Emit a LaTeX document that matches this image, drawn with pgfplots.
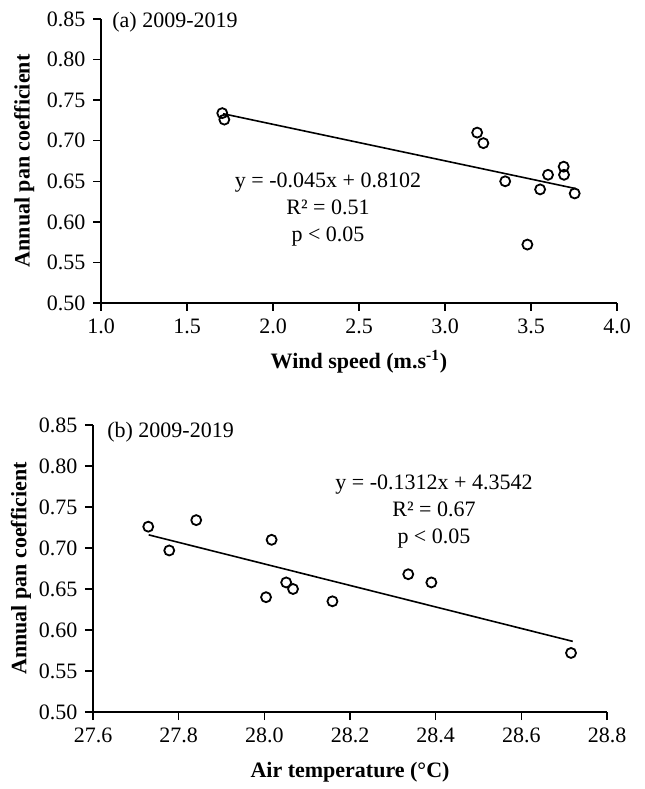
\documentclass[border=0pt]{standalone}
\usepackage{fontspec}
\setmainfont{Liberation Serif}
\usepackage{pgfplots}
\pgfplotsset{compat=1.18}
\begin{document}
\fontsize{11bp}{13.5bp}\selectfont
\begin{tikzpicture}
\useasboundingbox (0,0) rectangle (322.5bp,394.5bp);
\pgfplotsset{
  myax/.style={
    scale only axis,
    axis lines=left,
    axis line style={-, line width=0.65bp, black},
    tick align=outside,
    tick pos=left,
    major tick length=4bp,
    major tick style={line width=0.65bp, black},
    tick label style={font=\fontsize{11bp}{13bp}\selectfont},
    label style={font=\fontsize{11bp}{13bp}\selectfont\bfseries},
    ymin=0.5, ymax=0.85,
    ytick={0.5,0.55,0.6,0.65,0.7,0.75,0.8,0.85},
    yticklabels={0.50,0.55,0.60,0.65,0.70,0.75,0.80,0.85},
    clip=false,
  },
  mypts/.style={only marks, mark=o, mark size=2.5bp, mark options={line width=0.9bp, black}},
  myline/.style={black, line width=0.8bp, no marks},
}
% Top panel
\begin{axis}[myax,
  width=258bp, height=142bp,
  at={(50.5bp,243bp)}, anchor=south west,
  xmin=1, xmax=4,
  xtick={1,1.5,2,2.5,3,3.5,4},
  xticklabels={1.0,1.5,2.0,2.5,3.0,3.5,4.0},
  xlabel={Wind speed (m.s\textsuperscript{-1})},
  ylabel={Annual pan coefficient},
  xlabel style={at={(axis description cs:0.5,-0.208)}, anchor=center},
  ylabel style={at={(axis description cs:-0.149,0.5)}, anchor=center},
]
\addplot[mypts] coordinates {
(1.705,0.734) (1.717,0.726) (3.187,0.710) (3.223,0.697) (3.350,0.650)
(3.479,0.572) (3.553,0.640) (3.599,0.658) (3.690,0.668) (3.692,0.658) (3.754,0.635)
};
\addplot[myline] coordinates {(1.71,0.73325) (3.76,0.64100)};
\node[anchor=west, inner sep=0] at (axis description cs:0.0213,0.988) {(a) 2009-2019};
\node[align=center, inner sep=0] at (axis cs:2.32,0.6146) {y = -0.045x + 0.8102\\R² = 0.51\\p < 0.05};
\end{axis}
% Bottom panel
\begin{axis}[myax,
  width=257bp, height=143.5bp,
  at={(46.5bp,38.5bp)}, anchor=south west,
  xmin=27.6, xmax=28.8,
  xtick={27.6,27.8,28.0,28.2,28.4,28.6,28.8},
  xticklabels={27.6,27.8,28.0,28.2,28.4,28.6,28.8},
  xlabel={Air temperature (°C)},
  ylabel={Annual pan coefficient},
  xlabel style={at={(axis description cs:0.5,-0.209)}, anchor=center},
  ylabel style={at={(axis description cs:-0.140,0.5)}, anchor=center},
]
\addplot[mypts] coordinates {
(27.729,0.726) (27.778,0.697) (27.841,0.734) (28.004,0.640) (28.017,0.710)
(28.051,0.658) (28.067,0.650) (28.159,0.635) (28.336,0.668) (28.390,0.658) (28.716,0.572)
};
\addplot[myline] coordinates {(27.73,0.71602) (28.72,0.58614)};
\node[anchor=west, inner sep=0] at (axis description cs:0.027,0.974) {(b) 2009-2019};
\node[align=center, inner sep=0] at (axis cs:28.396,0.7439) {y = -0.1312x + 4.3542\\R² = 0.67\\p < 0.05};
\end{axis}
\end{tikzpicture}
\end{document}
